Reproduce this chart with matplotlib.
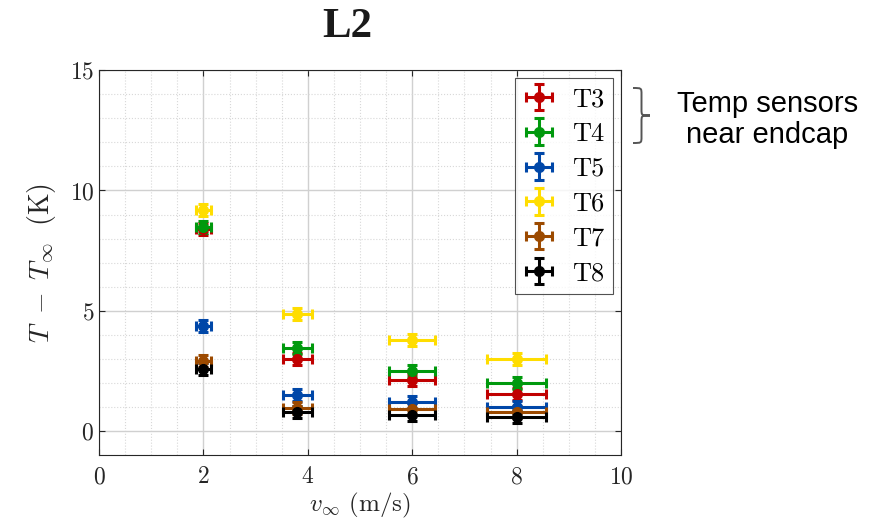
import numpy as np
import matplotlib; matplotlib.use("Agg")
import matplotlib.pyplot as plt
from matplotlib.path import Path
from matplotlib.patches import PathPatch

# free-stream speed (m/s) and its uncertainty
speeds = [2.0, 3.8, 6.0, 8.0]
speed_err = [0.15, 0.28, 0.44, 0.57]
temp_err = 0.25

sensors = ["T3", "T4", "T5", "T6", "T7", "T8"]
T3 = [8.40, 3.00, 2.10, 1.55]
T4 = [8.50, 3.45, 2.50, 2.00]
T5 = [4.37, 1.50, 1.22, 1.00]
T6 = [9.20, 4.85, 3.80, 3.00]
T7 = [2.92, 0.95, 0.90, 0.78]
T8 = [2.57, 0.80, 0.65, 0.60]
colors = ["#c00000", "#00990d", "#0047a8", "#ffdd00", "#9c4a00", "#000000"]

plt.rcParams.update({"font.family": "serif", "font.serif": ["cmr10"],
                     "mathtext.fontset": "cm", "axes.formatter.use_mathtext": True,
                     "axes.unicode_minus": False})

fig = plt.figure(figsize=(8.81, 5.32), dpi=100)
ax = fig.add_axes([0.1124, 0.1447, 0.5926, 0.7233])

for name, vals, c in zip(sensors, [T3, T4, T5, T6, T7, T8], colors):
    ax.errorbar(speeds, vals, xerr=speed_err, yerr=temp_err, fmt="o", color=c,
                ms=7, elinewidth=2.2, capsize=3.5, capthick=2.2, label=name)

ax.set_xlim(0, 10); ax.set_ylim(-1, 15)
ax.set_xticks(range(0, 11, 2)); ax.set_yticks([0, 5, 10, 15])
ax.set_xticks(np.arange(0, 10.01, 0.5), minor=True)
ax.set_yticks(range(-1, 16), minor=True)
ax.grid(True, which="major", color="#d0d0d0", lw=1.0)
ax.grid(True, which="minor", color="#d8d8d8", lw=0.8, ls=":")
ax.set_axisbelow(True)
ax.tick_params(which="both", direction="in", top=True, right=True, colors="#262626",
               labelsize=17, length=4)
ax.tick_params(axis="x", pad=8)
ax.tick_params(which="minor", length=0)
for s in ax.spines.values():
    s.set_color("#262626"); s.set_linewidth(0.8)

ax.set_xlabel(r"$v_\infty$ (m/s)", fontsize=18, color="#262626", labelpad=2)
ax.set_ylabel(r"$T\ -\ T_\infty\;$ (K)", fontsize=20, color="#262626", labelpad=8)
fig.text(0.394, 0.949, "L2", fontsize=31, family="Liberation Serif", fontweight="bold",
         color="#1a1a1a", ha="center", va="center")

leg = ax.legend(loc="upper right", fontsize=19, frameon=True, fancybox=False,
                edgecolor="#262626", handlelength=1.1, handletextpad=0.7,
                borderaxespad=0.3, labelspacing=0.42, borderpad=0.35)
leg.get_frame().set_linewidth(0.8)

# curly brace next to the legend
x0, x1, yt, yb = 0.7185, 0.7378, 0.8346, 0.7312
xm, ym, h = (x0 + x1) / 2, (yt + yb) / 2, 0.012
verts = [(x0, yt), (xm, yt), (xm, yt), (xm, yt - h),
         (xm, ym + h), (xm, ym), (xm, ym), (x1, ym),
         (xm, ym), (xm, ym), (xm, ym - h),
         (xm, yb + h), (xm, yb), (xm, yb), (x0, yb)]
codes = [Path.MOVETO, Path.CURVE4, Path.CURVE4, Path.CURVE4,
         Path.LINETO, Path.CURVE4, Path.CURVE4, Path.CURVE4,
         Path.CURVE4, Path.CURVE4, Path.CURVE4,
         Path.LINETO, Path.CURVE4, Path.CURVE4, Path.CURVE4]
fig.add_artist(PathPatch(Path(verts, codes), transform=fig.transFigure, fill=False,
                         ec="#555555", lw=1.4))
fig.text(0.871, 0.776, "Temp sensors\nnear endcap", fontsize=21, family="Liberation Sans",
         ha="center", va="center", linespacing=1.15)

fig.savefig("out.png", dpi=100)
